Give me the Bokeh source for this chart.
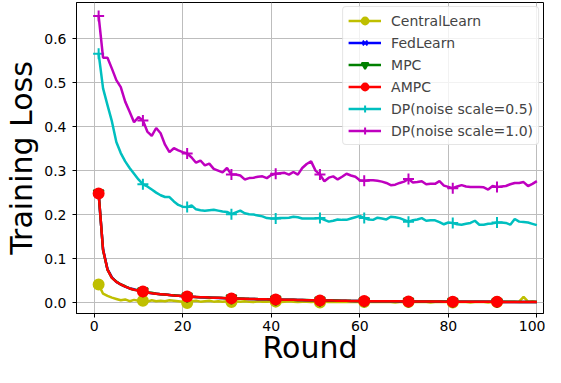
from bokeh.plotting import figure
from bokeh.models import Range1d, Legend, LegendItem, PrintfTickFormatter, FixedTicker
from bokeh.embed import file_html
from bokeh.resources import INLINE

rounds = list(range(1, 101))

central = [0.041, 0.020, 0.015, 0.011, 0.008, 0.005, 0.007, 0.003, 0.006, 0.004,
           0.004, 0.002, 0.005, 0.003, 0.004, 0.003, 0.005, 0.004, 0.003, 0.002,
           -0.001, 0.003, 0.004, 0.002, 0.003, 0.004, 0.002, 0.003, 0.002, 0.003,
           0.001, 0.003, 0.002, 0.003, 0.002, 0.001, 0.003, 0.002, 0.002, 0.003,
           0.002, 0.001, 0.002, 0.003, 0.002, 0.001, 0.002, 0.002, 0.001, 0.002,
           0.000, 0.002, 0.001, 0.002, 0.001, 0.002, 0.001, 0.001, 0.002, 0.001,
           0.001, 0.002, 0.001, 0.001, 0.002, 0.001, 0.001, 0.000, 0.001, 0.001,
           0.001, 0.001, 0.002, 0.001, 0.001, 0.000, 0.001, 0.001, 0.001, 0.001,
           0.000, 0.001, 0.001, 0.001, 0.000, 0.001, 0.001, 0.001, 0.000, 0.001,
           0.001, 0.000, 0.001, 0.001, 0.001, 0.002, 0.013, 0.002, 0.003, 0.001]

fedlearn = [0.247, 0.121, 0.076, 0.057, 0.047, 0.041, 0.036, 0.032, 0.030, 0.027,
            0.025, 0.023, 0.021, 0.020, 0.019, 0.018, 0.017, 0.016, 0.0153, 0.0145,
            0.0133, 0.013, 0.0124, 0.012, 0.0116, 0.0113, 0.011, 0.0105, 0.0101, 0.0098,
            0.0092, 0.0090, 0.0088, 0.0084, 0.0082, 0.0079, 0.0077, 0.0074, 0.0072, 0.0069,
            0.0066, 0.0065, 0.0064, 0.0061, 0.0060, 0.0057, 0.0056, 0.0053, 0.0052, 0.0049,
            0.0045, 0.0045, 0.0044, 0.0043, 0.0041, 0.0040, 0.0038, 0.0037, 0.0035, 0.0034,
            0.0030, 0.0031, 0.0029, 0.0030, 0.0028, 0.0028, 0.0026, 0.0027, 0.0025, 0.0025,
            0.0023, 0.0024, 0.0022, 0.0023, 0.0021, 0.0022, 0.0020, 0.0021, 0.0019, 0.0020,
            0.0017, 0.0019, 0.0017, 0.0018, 0.0016, 0.0017, 0.0016, 0.0016, 0.0015, 0.0015,
            0.0013, 0.0015, 0.0013, 0.0014, 0.0013, 0.0013, 0.0012, 0.0013, 0.0011, 0.0012]

mpc = [0.249, 0.119, 0.075, 0.056, 0.048, 0.041, 0.037, 0.032, 0.029, 0.028,
       0.026, 0.023, 0.022, 0.020, 0.019, 0.018, 0.017, 0.0163, 0.0156, 0.0147,
       0.0138, 0.0131, 0.0126, 0.0121, 0.0118, 0.0114, 0.0111, 0.0107, 0.0103, 0.0099,
       0.0097, 0.0092, 0.0089, 0.0086, 0.0083, 0.0081, 0.0078, 0.0076, 0.0073, 0.0071,
       0.0070, 0.0067, 0.0065, 0.0063, 0.0061, 0.0059, 0.0057, 0.0055, 0.0053, 0.0051,
       0.0049, 0.0047, 0.0046, 0.0044, 0.0043, 0.0041, 0.0040, 0.0038, 0.0037, 0.0035,
       0.0034, 0.0032, 0.0031, 0.0031, 0.0030, 0.0029, 0.0028, 0.0028, 0.0027, 0.0026,
       0.0027, 0.0025, 0.0024, 0.0024, 0.0023, 0.0023, 0.0022, 0.0022, 0.0021, 0.0021,
       0.0021, 0.0020, 0.0019, 0.0019, 0.0018, 0.0018, 0.0018, 0.0017, 0.0017, 0.0016,
       0.0017, 0.0016, 0.0015, 0.0015, 0.0015, 0.0014, 0.0014, 0.0014, 0.0013, 0.0013]

ampc = [0.248, 0.120, 0.075, 0.056, 0.047, 0.041, 0.036, 0.032, 0.029, 0.027,
        0.025, 0.023, 0.021, 0.020, 0.019, 0.018, 0.017, 0.016, 0.0155, 0.0145,
        0.0135, 0.013, 0.0125, 0.012, 0.0117, 0.0113, 0.011, 0.0106, 0.0102, 0.0098,
        0.0094, 0.0091, 0.0088, 0.0085, 0.0082, 0.0080, 0.0077, 0.0075, 0.0072, 0.0070,
        0.0068, 0.0066, 0.0064, 0.0062, 0.0060, 0.0058, 0.0056, 0.0054, 0.0052, 0.0050,
        0.0047, 0.0046, 0.0045, 0.0043, 0.0042, 0.0040, 0.0039, 0.0037, 0.0036, 0.0034,
        0.0032, 0.0031, 0.0030, 0.0030, 0.0029, 0.0028, 0.0027, 0.0027, 0.0026, 0.0025,
        0.0025, 0.0024, 0.0023, 0.0023, 0.0022, 0.0022, 0.0021, 0.0021, 0.0020, 0.0020,
        0.0019, 0.0019, 0.0018, 0.0018, 0.0017, 0.0017, 0.0017, 0.0016, 0.0016, 0.0015,
        0.0015, 0.0015, 0.0014, 0.0014, 0.0014, 0.0013, 0.0013, 0.0013, 0.0012, 0.0012]

dp05 = [0.566, 0.487, 0.449, 0.412, 0.365, 0.340, 0.321, 0.306, 0.293, 0.280,
        0.269, 0.264, 0.257, 0.250, 0.244, 0.240, 0.240, 0.230, 0.222, 0.218,
        0.217, 0.221, 0.212, 0.210, 0.209, 0.210, 0.211, 0.209, 0.207, 0.206,
        0.201, 0.205, 0.209, 0.203, 0.201, 0.200, 0.198, 0.196, 0.192, 0.191,
        0.191, 0.192, 0.192, 0.193, 0.195, 0.194, 0.191, 0.191, 0.191, 0.191,
        0.192, 0.188, 0.184, 0.186, 0.189, 0.188, 0.188, 0.191, 0.194, 0.197,
        0.192, 0.189, 0.188, 0.193, 0.191, 0.189, 0.195, 0.194, 0.192, 0.188,
        0.184, 0.187, 0.189, 0.192, 0.186, 0.187, 0.187, 0.183, 0.178, 0.182,
        0.181, 0.178, 0.177, 0.179, 0.181, 0.186, 0.177, 0.177, 0.179, 0.180,
        0.182, 0.182, 0.181, 0.177, 0.190, 0.184, 0.183, 0.182, 0.179, 0.176]

dp10 = [0.652, 0.557, 0.557, 0.532, 0.506, 0.490, 0.457, 0.434, 0.410, 0.422,
        0.414, 0.389, 0.379, 0.397, 0.385, 0.359, 0.342, 0.351, 0.346, 0.342,
        0.339, 0.330, 0.318, 0.323, 0.312, 0.316, 0.304, 0.300, 0.296, 0.306,
        0.291, 0.291, 0.289, 0.280, 0.283, 0.284, 0.286, 0.287, 0.283, 0.290,
        0.293, 0.294, 0.295, 0.291, 0.297, 0.291, 0.306, 0.315, 0.321, 0.300,
        0.291, 0.276, 0.284, 0.287, 0.280, 0.286, 0.293, 0.289, 0.286, 0.278,
        0.277, 0.278, 0.278, 0.277, 0.275, 0.272, 0.267, 0.268, 0.272, 0.275,
        0.281, 0.273, 0.274, 0.276, 0.269, 0.270, 0.270, 0.276, 0.266, 0.263,
        0.260, 0.264, 0.267, 0.264, 0.263, 0.263, 0.263, 0.262, 0.257, 0.265,
        0.263, 0.264, 0.265, 0.269, 0.272, 0.272, 0.274, 0.265, 0.270, 0.276]

series_names = ["CentralLearn", "FedLearn", "MPC", "AMPC",
                "DP(noise scale=0.5)", "DP(noise scale=1.0)"]
series_values = [central, fedlearn, mpc, ampc, dp05, dp10]

x_ticks = [0, 20, 40, 60, 80, 100]
y_ticks = [0.0, 0.1, 0.2, 0.3, 0.4, 0.5, 0.6]
x_label = "Round"
y_label = "Training Loss"

colors = ["#bfbf00", "#0000ff", "#008000", "#ff0000", "#00bfbf", "#bf00bf"]
markers = ["circle", "x", "inverted_triangle", "circle", "cross", "cross"]
msizes = [10, 10, 10, 10, 11, 11]

FONT = "DejaVu Sans"

p = figure(width=545, height=367, output_backend="svg", toolbar_location=None,
           x_range=Range1d(-4, 101.5), y_range=Range1d(-0.025, 0.6825),
           min_border_left=76, min_border_right=2, min_border_top=2, min_border_bottom=5)

p.background_fill_color = "white"
p.border_fill_color = "white"
p.outline_line_color = "black"
p.outline_line_width = 1

p.xaxis.ticker = FixedTicker(ticks=x_ticks)
p.yaxis.ticker = FixedTicker(ticks=y_ticks)
p.yaxis.formatter = PrintfTickFormatter(format="%.1f")
for ax in (p.xaxis, p.yaxis):
    ax.major_label_text_font = FONT
    ax.major_label_text_font_size = "14px"
    ax.major_label_text_color = "black"
    ax.axis_label_text_font = FONT
    ax.axis_label_text_font_size = "30px"
    ax.axis_label_text_font_style = "normal"
    ax.axis_label_text_color = "black"
    ax.axis_line_color = "black"
    ax.major_tick_line_color = "black"
    ax.major_tick_out = 4
    ax.major_tick_in = 0
    ax.minor_tick_line_color = None
p.xaxis.major_label_standoff = 3
p.xaxis.axis_label_standoff = -4
p.yaxis.major_label_standoff = 6
p.yaxis.axis_label_standoff = 2
p.xaxis.axis_label = x_label
p.yaxis.axis_label = y_label

p.grid.grid_line_color = "#bdbdbd"
p.grid.grid_line_width = 1

items = []
for name, vals, c, m, s in zip(series_names, series_values, colors, markers, msizes):
    ln = p.line(rounds, vals, line_color=c, line_width=2.5)
    sc = p.scatter(rounds[::10], vals[::10], marker=m, size=s,
                   fill_color=c, line_color=c, line_width=2)
    items.append(LegendItem(label=name, renderers=[ln, sc]))

legend = Legend(items=items, location="top_right",
                label_text_font=FONT, label_text_font_size="14px",
                glyph_width=33, glyph_height=17, label_height=17,
                label_standoff=10, spacing=5, padding=5, margin=4,
                border_line_color="#cccccc", border_line_width=1,
                border_radius=4,
                background_fill_color="white", background_fill_alpha=0.8)
p.add_layout(legend, "center")

open("out.html", "w").write(file_html(p, INLINE))
